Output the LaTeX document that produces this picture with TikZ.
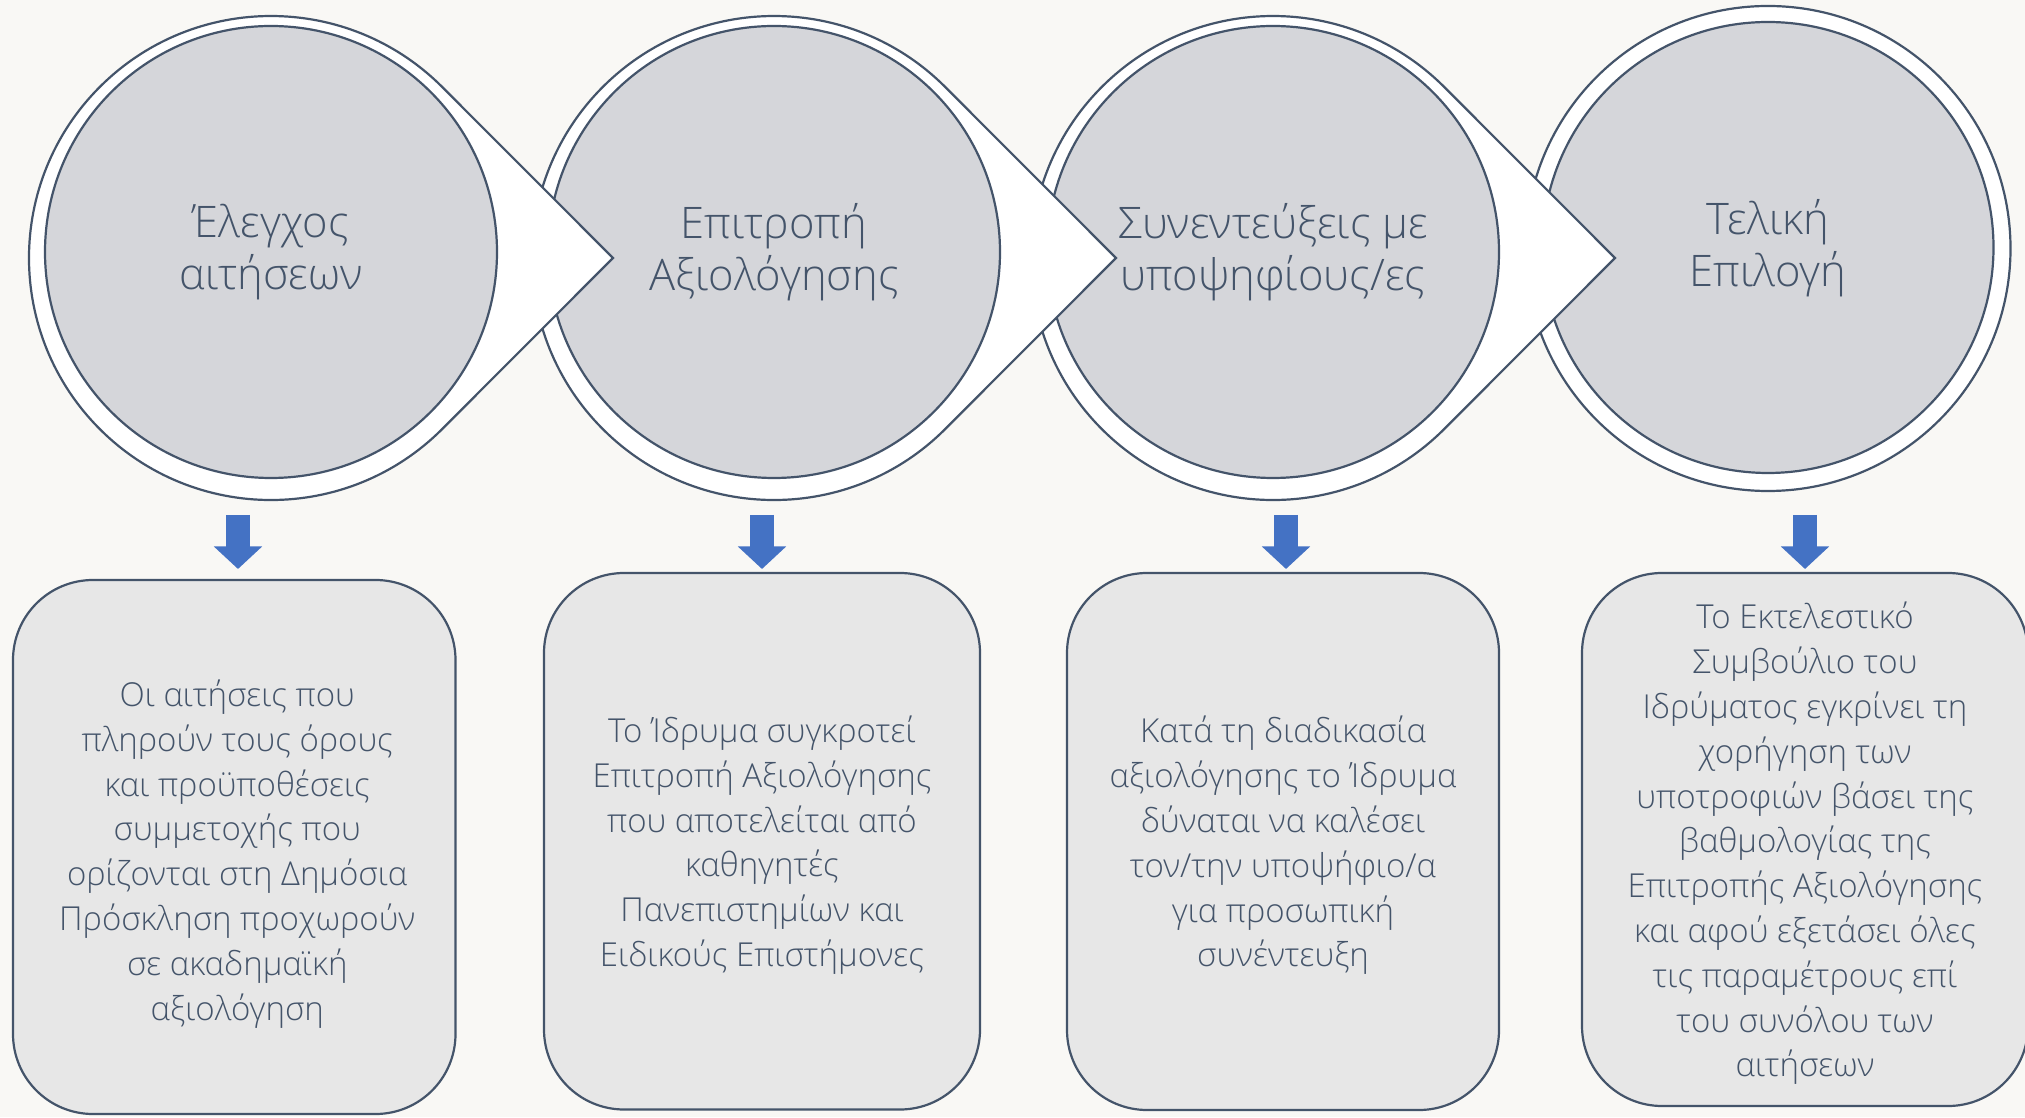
\documentclass[tikz,border=0pt]{standalone}
\usepackage{fontspec}
\IfFontExistsTF{Open Sans Light}{\setmainfont{Open Sans Light}}{\setmainfont{Open Sans}}
\usetikzlibrary{arrows.meta}
\definecolor{bgc}{HTML}{F9F8F5}
\definecolor{innerc}{HTML}{D5D6DA}
\definecolor{boxc}{HTML}{E7E7E7}
\definecolor{linec}{HTML}{44546A}
\definecolor{textc}{HTML}{44546A}
\definecolor{bluec}{HTML}{4472C4}
\begin{document}
\begin{tikzpicture}[x=1pt,y=1pt,
  outershape/.style={fill=white,draw=linec,line width=2.2pt,line join=miter},
  innercirc/.style={circle,fill=innerc,draw=linec,line width=2.2pt,minimum size=452pt,inner sep=0pt},
  circtext/.style={align=center,text=textc,inner sep=0pt,font=\fontsize{43.5}{52}\selectfont},
  descbox/.style={rectangle,rounded corners=80pt,fill=boxc,draw=linec,line width=2.2pt,inner sep=0pt},
  desctext/.style={align=center,text=textc,inner sep=0pt,font=\fontsize{33}{44.8}\selectfont},
  blockarrow/.style={draw=bluec,line width=24pt,-{Triangle[width=47pt,length=22.5pt]}}]
\useasboundingbox (0,0) rectangle (2025,1117);
\fill[bgc] (0,0) rectangle (2025,1117);

% shape 4
\draw[outershape] (1768,868.5) circle[radius=242.5pt];
\node[innercirc,minimum size=451pt] (c4) at (1768,869.5) {};
\node[circtext] (t4) at ([yshift=-1pt]c4.center) {Τελική\\Επιλογή};

% shape 3
\draw[outershape] (1615,859) -- (1444.1,1030.1) arc[start angle=45,end angle=315,radius=242pt] -- cycle;
\node[innercirc] (c3) at (1273,865) {};
\node[circtext] (t3) at (c3.center) {Συνεντεύξεις με\\υποψηφίους/ες};

% shape 2
\draw[outershape] (1116,859) -- (945.1,1030.1) arc[start angle=45,end angle=315,radius=242pt] -- cycle;
\node[innercirc] (c2) at (774,865) {};
\node[circtext] (t2) at (c2.center) {Επιτροπή\\Αξιολόγησης};

% shape 1
\draw[outershape] (613,859) -- (442.1,1030.1) arc[start angle=45,end angle=315,radius=242pt] -- cycle;
\node[innercirc] (c1) at (271,865) {};
\node[circtext] (t1) at (c1.center) {Έλεγχος\\αιτήσεων};

% arrows
\coordinate (a1t) at (238,602); \coordinate (a1b) at (238,548);
\coordinate (a2t) at (762,602); \coordinate (a2b) at (762,548);
\coordinate (a3t) at (1286,602); \coordinate (a3b) at (1286,548);
\coordinate (a4t) at (1805,602); \coordinate (a4b) at (1805,548);
\draw[blockarrow] (a1t) -- (a1b);
\draw[blockarrow] (a2t) -- (a2b);
\draw[blockarrow] (a3t) -- (a3b);
\draw[blockarrow] (a4t) -- (a4b);

% boxes
\node[descbox,minimum width=442.5pt,minimum height=534pt] (b1) at (234.25,270) {};
\node[desctext] (d1) at ([xshift=3pt,yshift=-7pt]b1.center)
  {Οι αιτήσεις που\\πληρούν τους όρους\\και προϋποθέσεις\\συμμετοχής που\\ορίζονται στη Δημόσια\\Πρόσκληση προχωρούν\\σε ακαδημαϊκή\\αξιολόγηση};
\node[descbox,minimum width=436pt,minimum height=536.5pt] (b2) at (762,275.75) {};
\node[desctext] (d2) at ([yshift=-4pt]b2.center)
  {Το Ίδρυμα συγκροτεί\\Επιτροπή Αξιολόγησης\\που αποτελείται από\\καθηγητές\\Πανεπιστημίων και\\Ειδικούς Επιστήμονες};
\node[descbox,minimum width=432pt,minimum height=537pt] (b3) at (1283,275.5) {};
\node[desctext] (d3) at ([yshift=-4pt]b3.center)
  {Κατά τη διαδικασία\\αξιολόγησης το Ίδρυμα\\δύναται να καλέσει\\τον/την υποψήφιο/α\\για προσωπική\\συνέντευξη};
\node[descbox,minimum width=446pt,minimum height=533pt] (b4) at (1805,277.5) {};
\node[desctext] (d4) at ([yshift=-4pt]b4.center)
  {Το Εκτελεστικό\\Συμβούλιο του\\Ιδρύματος εγκρίνει τη\\χορήγηση των\\υποτροφιών βάσει της\\βαθμολογίας της\\Επιτροπής Αξιολόγησης\\και αφού εξετάσει όλες\\τις παραμέτρους επί\\του συνόλου των\\αιτήσεων};
\end{tikzpicture}
\end{document}
